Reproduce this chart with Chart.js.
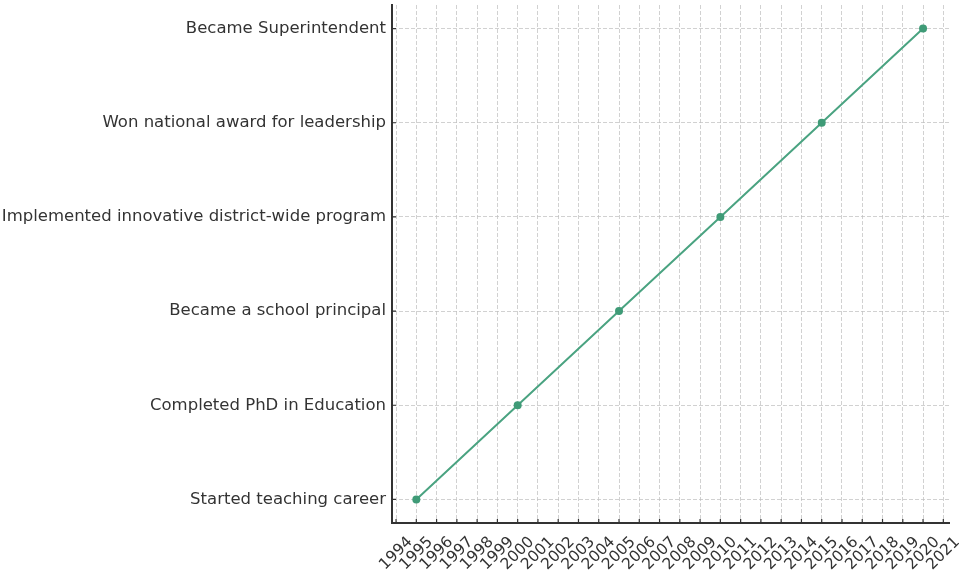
<!DOCTYPE html>
<html>
<head>
<meta charset="utf-8">
<script src="https://cdn.jsdelivr.net/npm/chart.js@4.4.0/dist/chart.umd.min.js"></script>
<style>
  html, body { margin: 0; padding: 0; background: #fff; }
  #wrap { width: 959px; height: 572px; }
</style>
</head>
<body>
<div id="wrap"><canvas id="timelineChart" width="959" height="572"></canvas></div>
<script>
// === Data ===
const years = [1995, 2000, 2005, 2010, 2015, 2020];
const milestones = [
    'Started teaching career',
    'Completed PhD in Education',
    'Became a school principal',
    'Implemented innovative district-wide program',
    'Won national award for leadership',
    'Became Superintendent'
];
const yearTicks = [1994, 1995, 1996, 1997, 1998, 1999, 2000, 2001, 2002, 2003, 2004, 2005, 2006,
    2007, 2008, 2009, 2010, 2011, 2012, 2013, 2014, 2015, 2016, 2017, 2018, 2019, 2020, 2021];

const lineColor = '#4aa381';
const textColor = '#333333';
const gridColor = 'rgba(190, 190, 190, 0.7)';
const axisColor = '#333333';

// inward tick marks, like the original plot
const innerTicks = {
    id: 'innerTicks',
    afterDatasetsDraw(chart) {
        const { ctx, chartArea, scales } = chart;
        ctx.save();
        ctx.strokeStyle = axisColor;
        ctx.lineWidth = 1.2;
        ctx.beginPath();
        scales.x.ticks.forEach(function (t) {
            const px = scales.x.getPixelForValue(t.value);
            ctx.moveTo(px, chartArea.bottom);
            ctx.lineTo(px, chartArea.bottom - 4);
        });
        scales.y.ticks.forEach(function (t) {
            const py = scales.y.getPixelForValue(t.value);
            ctx.moveTo(chartArea.left, py);
            ctx.lineTo(chartArea.left + 4, py);
        });
        ctx.stroke();
        ctx.restore();
    }
};

const ctx = document.getElementById('timelineChart').getContext('2d');
new Chart(ctx, {
    type: 'line',
    data: {
        datasets: [{
            label: 'Career milestones',
            data: years.map(function (yr, i) { return { x: yr, y: i }; }),
            borderColor: lineColor,
            backgroundColor: lineColor,
            borderWidth: 2,
            pointRadius: 4,
            pointHoverRadius: 5,
            pointBackgroundColor: '#3f9b77',
            pointBorderWidth: 0,
            tension: 0,
            fill: false
        }]
    },
    options: {
        responsive: false,
        animation: false,
        layout: { padding: { top: 3, right: 10, left: 0, bottom: 0 } },
        plugins: {
            legend: { display: false },
            tooltip: { enabled: false }
        },
        scales: {
            x: {
                type: 'linear',
                min: 1993.8,
                max: 2021.28,
                afterBuildTicks: function (scale) {
                    scale.ticks = yearTicks.map(function (v) { return { value: v }; });
                },
                afterFit: function (scale) {
                    scale.height = 49;
                    scale.paddingLeft = 0;
                    scale.paddingRight = 0;
                },
                grid: { color: gridColor, lineWidth: 1, drawTicks: false },
                border: { display: true, color: axisColor, width: 2, dash: [4, 2] },
                ticks: {
                    color: textColor,
                    font: { family: 'DejaVu Sans', size: 15.5 },
                    minRotation: 45,
                    maxRotation: 45,
                    autoSkip: false,
                    padding: 10,
                    labelOffset: 14,
                    callback: function (v) { return String(v); }
                }
            },
            y: {
                type: 'linear',
                min: -0.25,
                max: 5.25,
                afterBuildTicks: function (scale) {
                    scale.ticks = milestones.map(function (m, i) { return { value: i }; });
                },
                afterFit: function (scale) {
                    scale.width = 392;
                    scale.paddingTop = 0;
                    scale.paddingBottom = 0;
                },
                grid: { color: gridColor, lineWidth: 1, drawTicks: false },
                border: { display: true, color: axisColor, width: 2, dash: [4, 2] },
                ticks: {
                    color: textColor,
                    font: { family: 'DejaVu Sans', size: 16.5 },
                    padding: 6,
                    callback: function (v) { return milestones[v] || ''; }
                }
            }
        }
    },
    plugins: [innerTicks]
});
</script>
</body>
</html>
